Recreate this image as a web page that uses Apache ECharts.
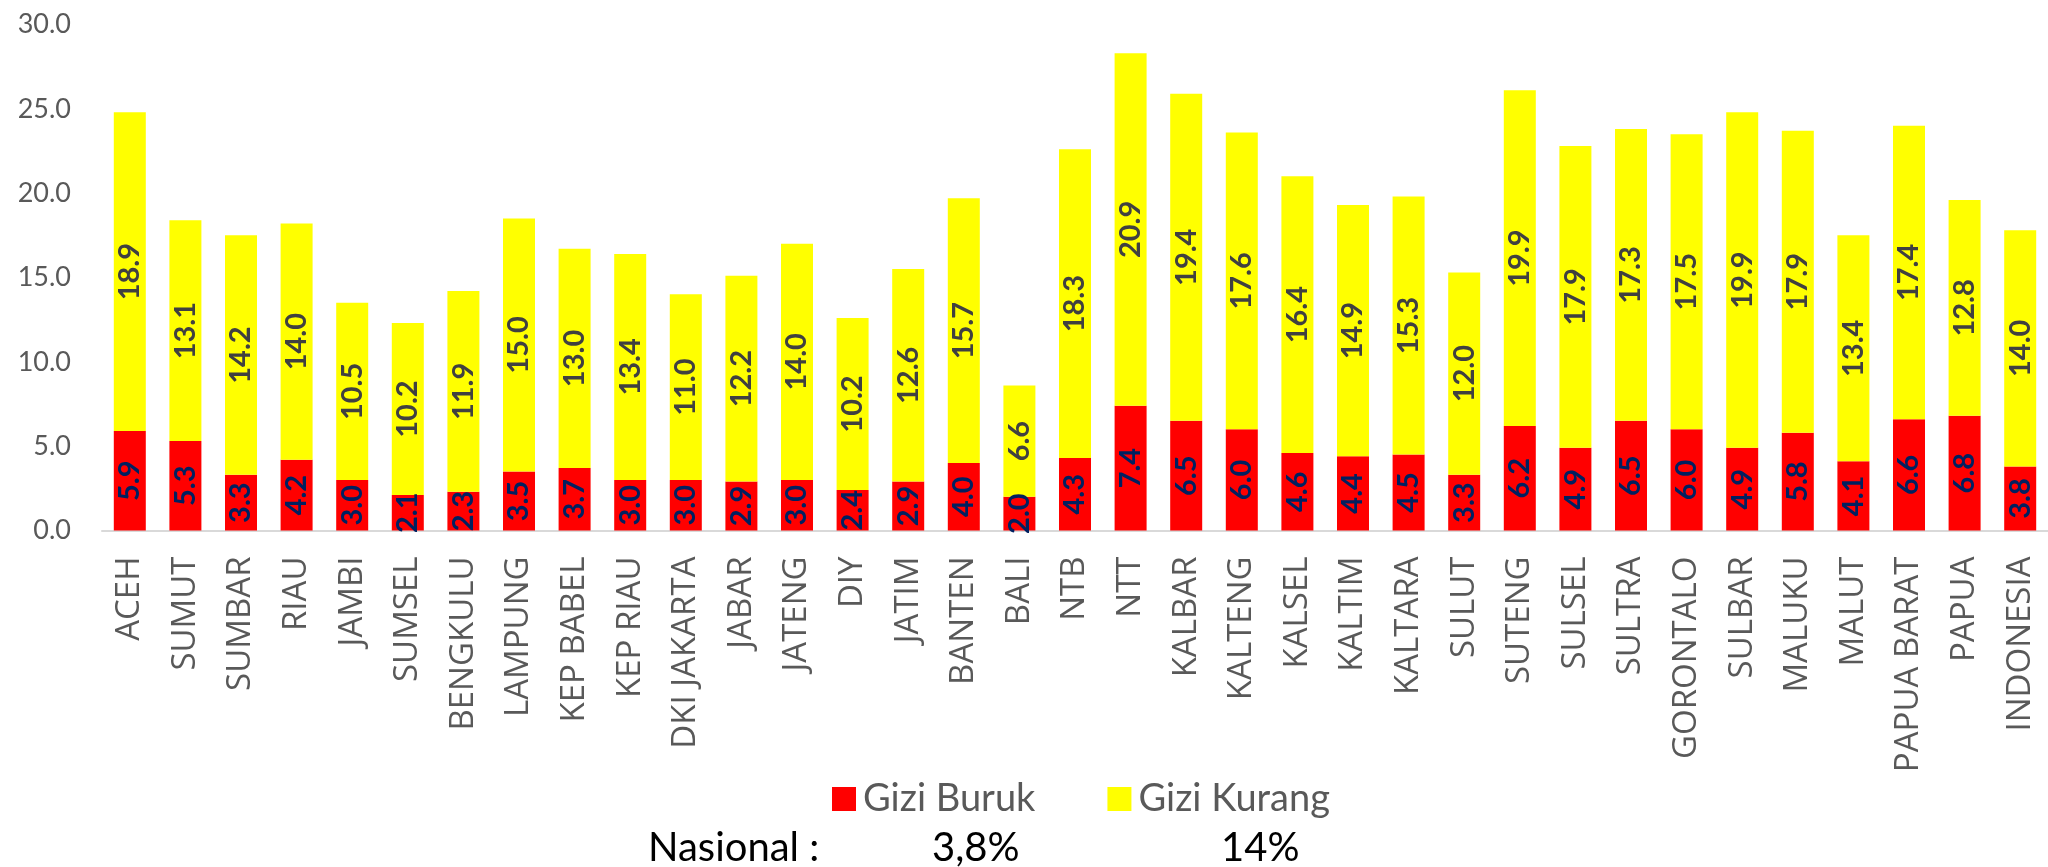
<!DOCTYPE html>
<html lang="id">
<head>
    <meta charset="UTF-8">
    <title>Gizi Buruk dan Gizi Kurang per Provinsi</title>
    <script src="https://cdn.jsdelivr.net/npm/echarts@6/dist/echarts.min.js"></script>
    <style>
        html, body { margin: 0; padding: 0; background: #fff; }
    </style>
</head>
<body>
<div id="main" style="width: 2048px;height:867px;"></div> <!-- chart area -->
<script type="text/javascript">
    // provinces (x axis)
    const provinsi = ['ACEH', 'SUMUT', 'SUMBAR', 'RIAU', 'JAMBI', 'SUMSEL', 'BENGKULU', 'LAMPUNG',
        'KEP BABEL', 'KEP RIAU', 'DKI JAKARTA', 'JABAR', 'JATENG', 'DIY', 'JATIM', 'BANTEN', 'BALI',
        'NTB', 'NTT', 'KALBAR', 'KALTENG', 'KALSEL', 'KALTIM', 'KALTARA', 'SULUT', 'SUTENG', 'SULSEL',
        'SULTRA', 'GORONTALO', 'SULBAR', 'MALUKU', 'MALUT', 'PAPUA BARAT', 'PAPUA', 'INDONESIA'];
    // gizi buruk (%)
    const giziBuruk = [5.9, 5.3, 3.3, 4.2, 3.0, 2.1, 2.3, 3.5, 3.7, 3.0, 3.0, 2.9, 3.0, 2.4, 2.9, 4.0, 2.0,
        4.3, 7.4, 6.5, 6.0, 4.6, 4.4, 4.5, 3.3, 6.2, 4.9, 6.5, 6.0, 4.9, 5.8, 4.1, 6.6, 6.8, 3.8];
    // gizi kurang (%)
    const giziKurang = [18.9, 13.1, 14.2, 14.0, 10.5, 10.2, 11.9, 15.0, 13.0, 13.4, 11.0, 12.2, 14.0, 10.2, 12.6, 15.7, 6.6,
        18.3, 20.9, 19.4, 17.6, 16.4, 14.9, 15.3, 12.0, 19.9, 17.9, 17.3, 17.5, 19.9, 17.9, 13.4, 17.4, 12.8, 14.0];
    // y axis ticks
    const yTicks = { min: 0, max: 30, step: 5 };
    // text under the legend
    const nasionalJudul = 'Nasional :';
    const nasionalNilai = ['3,8%', '14%'];

    const grey = '#595959';

    let options = {
        animation: false,
        grid: { left: 102, top: 24.5, width: 1953, height: 506 },
        legend: {
            data: ['Gizi Buruk', 'Gizi Kurang'],
            left: 832, top: 780, padding: 0,
            icon: 'rect', itemWidth: 24, itemHeight: 24, itemGap: 72,
            textStyle: { fontFamily: 'Lato', fontSize: 38, color: grey, padding: [0, 0, 0, 2] }
        },
        xAxis: {
            type: 'category',
            data: provinsi,
            axisLine: { lineStyle: { color: '#d9d9d9', width: 2 } },
            axisTick: { show: false },
            axisLabel: { rotate: 90, margin: 26, fontFamily: '"Open Sans", sans-serif', fontSize: 33, color: grey, interval: 0 }
        },
        yAxis: {
            type: 'value',
            min: yTicks.min, max: yTicks.max, interval: yTicks.step,
            splitLine: { show: false },
            axisLine: { show: false },
            axisTick: { show: false },
            axisLabel: {
                margin: 31, fontFamily: 'Lato', fontSize: 27, color: grey,
                formatter: (v) => v.toFixed(1)
            }
        },
        series: [
            {
                name: 'Gizi Buruk', type: 'bar', stack: 'gizi', barWidth: 32,
                data: giziBuruk,
                itemStyle: { color: '#ff0000' },
                label: {
                    show: true, position: 'inside', rotate: 90,
                    fontFamily: 'Lato', fontWeight: 'bold', fontSize: 29, color: '#002060',
                    formatter: (p) => p.value.toFixed(1)
                }
            },
            {
                name: 'Gizi Kurang', type: 'bar', stack: 'gizi', barWidth: 32,
                data: giziKurang,
                itemStyle: { color: '#ffff00' },
                label: {
                    show: true, position: 'inside', rotate: 90,
                    fontFamily: 'Lato', fontWeight: 'bold', fontSize: 29, color: '#404040',
                    formatter: (p) => p.value.toFixed(1)
                }
            }
        ],
        graphic: [
            { type: 'text', x: 648, y: 848, style: { text: nasionalJudul, fontFamily: 'Lato', fontSize: 40, fill: '#000', verticalAlign: 'middle' } },
            { type: 'text', x: 932, y: 848, style: { text: nasionalNilai[0], fontFamily: 'Lato', fontSize: 40, fill: '#000', verticalAlign: 'middle' } },
            { type: 'text', x: 1221, y: 848, style: { text: nasionalNilai[1], fontFamily: 'Lato', fontSize: 40, fill: '#000', verticalAlign: 'middle' } }
        ]
    };

    let myChart = echarts.init(document.getElementById('main')); // init chart
    myChart.setOption(options);
</script>
</body>
</html>
